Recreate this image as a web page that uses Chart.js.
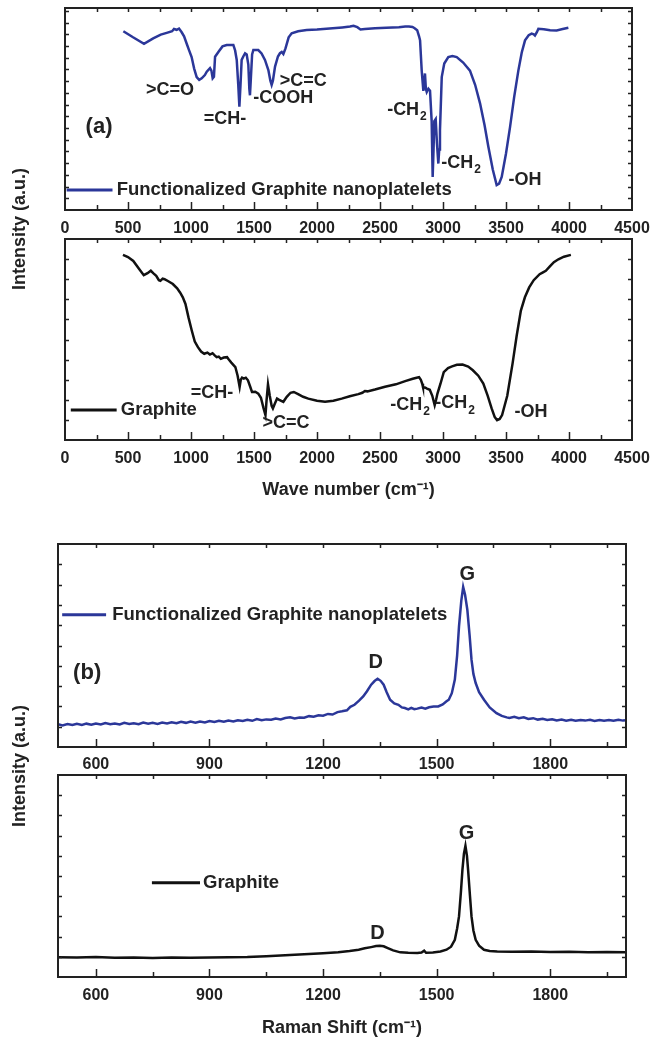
<!DOCTYPE html>
<html>
<head>
<meta charset="utf-8">
<script src="https://cdn.jsdelivr.net/npm/chart.js@4.4.1/dist/chart.umd.min.js"></script>
<style>
  body { margin: 0; background: #fff; }
  #fig { position: relative; width: 651px; height: 1044px; }
  #fig canvas { position: absolute; left: 0; }
  .ytitle {
    position: absolute;
    transform: translate(-50%, -50%) rotate(-90deg);
    white-space: nowrap;
    font: bold 18px "Liberation Sans", Arial, sans-serif;
    color: #222;
  }
</style>
</head>
<body>
<div id="fig">
  <canvas id="ftirTop" width="651" height="240" style="top:0px"></canvas>
  <canvas id="ftirBottom" width="651" height="280" style="top:230px"></canvas>
  <canvas id="ramanTop" width="651" height="270" style="top:510px"></canvas>
  <canvas id="ramanBottom" width="651" height="274" style="top:770px"></canvas>
  <div class="ytitle" style="left:19px; top:229px">Intensity (a.u.)</div>
  <div class="ytitle" style="left:19px; top:766px">Intensity (a.u.)</div>
</div>
<script>
// FTIR, functionalized graphite nanoplatelets (wave number / relative intensity)
const ftirFgnpWave = [463, 540, 627, 700, 760, 807, 850, 865, 886, 905, 926, 945, 966, 985, 1005, 1025, 1045, 1065, 1085, 1110,
  1125, 1151, 1162, 1172, 1182, 1191, 1220, 1250, 1283, 1336, 1350, 1363, 1375, 1384, 1393, 1402, 1415, 1429, 1442, 1455,
  1463, 1468, 1475, 1485, 1495, 1534, 1560, 1587, 1614, 1630, 1640, 1650, 1667, 1690, 1706, 1720, 1733, 1750, 1775, 1799,
  1850, 1918, 2000, 2100, 2200, 2262, 2290, 2320, 2345, 2380, 2460, 2550, 2650, 2700, 2730, 2758, 2775, 2795, 2810, 2818,
  2831, 2844, 2857, 2864, 2871, 2884, 2897, 2910, 2918, 2925, 2931, 2942, 2952, 2963, 2970, 2976, 2990, 3010, 3042, 3075,
  3109, 3160, 3214, 3255, 3294, 3330, 3360, 3395, 3426, 3445, 3466, 3500, 3532, 3565, 3598, 3625, 3651, 3680, 3704, 3720,
  3730, 3745, 3757, 3800, 3850, 3902, 3950, 3995];
const ftirFgnpValue = [88.5, 85.5, 82.3, 85, 86.8, 87.7, 88.5, 89.6, 89.2, 89.8, 88, 86, 82.3, 79, 75.7, 70, 65.8, 64.4, 65.2, 66.8,
  68.5, 70.2, 69, 65.2, 66, 75.9, 78.5, 81, 81.7, 81.7, 79, 74.3, 62, 51.1, 62, 74.3, 76, 77.6, 77, 72,
  60, 56.8, 65, 77, 79.2, 79.2, 77.5, 74.3, 69.3, 64, 61.9, 64, 71, 76, 77.6, 78.2, 77.2, 80, 85.5, 87.5,
  88.5, 89.1, 89.3, 89.8, 90.4, 90.8, 91.2, 90.5, 89.4, 89.6, 90, 90.2, 90.5, 90.8, 90.8, 90.6, 90, 89, 86, 84,
  69, 59, 67.6, 60, 58.4, 60, 59, 44, 16.4, 30, 44, 45, 33, 23, 30, 39.5, 65.8, 72.5, 75.7, 76.2,
  75.7, 73, 69, 62, 52.8, 42, 31.3, 20, 12.3, 13, 16.4, 28, 41, 56, 69, 78, 84, 86.5, 87.3, 87,
  86.4, 88, 89.7, 89.5, 89, 88.9, 89.6, 90.2];

// FTIR, pristine graphite
const ftirGraphiteWave = [460, 500, 542, 590, 625, 655, 681, 700, 724, 745, 757, 775, 790, 820, 856, 890, 913, 935, 956, 980,
  1006, 1030, 1055, 1080, 1105, 1130, 1150, 1171, 1190, 1204, 1220, 1237, 1260, 1286, 1300, 1320, 1352, 1370, 1386, 1395,
  1405, 1419, 1435, 1452, 1470, 1484, 1510, 1534, 1555, 1575, 1591, 1600, 1611, 1625, 1640, 1650, 1665, 1683, 1700, 1733,
  1760, 1790, 1816, 1850, 1890, 1931, 2000, 2064, 2130, 2196, 2260, 2328, 2360, 2380, 2400, 2460, 2540, 2626, 2700, 2760,
  2791, 2810, 2824, 2835, 2841, 2860, 2873, 2895, 2915, 2934, 2945, 2956, 2980, 3006, 3040, 3072, 3110, 3155, 3200, 3237,
  3280, 3320, 3355, 3386, 3410, 3429, 3450, 3469, 3510, 3552, 3585, 3618, 3650, 3684, 3720, 3767, 3790, 3816, 3850, 3880,
  3916, 3960, 4015];
const ftirGraphiteValue = [92.1, 91, 89.1, 85, 82, 83, 84.2, 83, 81.7, 79.5, 79.2, 80.3, 80, 79, 77.6, 75.5, 73.4, 71, 67.7, 61,
  54.5, 49, 46.2, 44, 42.9, 43.5, 42.5, 43.2, 42, 41.2, 41.5, 40.4, 41, 41.2, 40, 38.5, 36.3, 32, 26.4, 30,
  31, 30.5, 31, 29.7, 26.5, 23.9, 24, 23.1, 21, 16, 12.4, 20, 27.7, 22, 17, 15.7, 18, 20.6, 20, 19,
  21.5, 23.5, 23.9, 22.8, 21.5, 20.6, 19.5, 19, 19.5, 20.6, 21.8, 22.8, 23.5, 24.4, 24.2, 25.1, 26.5, 27.7, 29.3, 30.5,
  31, 31.3, 30, 28, 26.4, 26, 25.6, 25, 22, 17.3, 20, 23.1, 28, 33.8, 35.8, 36.6, 37.4, 37.5, 36.5, 34.7,
  32, 28.1, 22, 15.7, 11.5, 9.9, 10.5, 12.4, 22, 38, 52, 64.4, 71, 75.9, 79.5, 82.5, 83.3, 84.2, 86.5, 88.5,
  89.9, 91.2, 92.1];

// Raman, functionalized graphite nanoplatelets
const ramanFgnpShift = [500, 512, 525, 538, 550, 563, 575, 588, 600, 613, 625, 638, 650, 663, 675, 688, 700, 713, 725, 738,
  750, 763, 775, 788, 800, 813, 825, 838, 850, 863, 875, 888, 900, 913, 925, 938, 950, 963, 975, 988,
  1000, 1013, 1025, 1038, 1050, 1063, 1075, 1088, 1100, 1113, 1125, 1138, 1150, 1163, 1175, 1188, 1200, 1213, 1225, 1238,
  1250, 1263, 1272, 1283, 1295, 1306, 1316, 1327, 1336, 1344, 1352, 1360, 1368, 1377, 1388, 1399, 1408, 1416, 1425, 1433,
  1441, 1449, 1460, 1470, 1480, 1492, 1504, 1516, 1526, 1532, 1540, 1548, 1554, 1559, 1565, 1570, 1575, 1581, 1587, 1592,
  1597, 1603, 1612, 1625, 1640, 1658, 1672, 1685, 1692, 1705, 1717, 1730, 1742, 1755, 1767, 1780, 1792, 1805, 1817, 1830,
  1842, 1855, 1867, 1880, 1892, 1905, 1917, 1930, 1942, 1955, 1967, 1980, 1992, 2000];
const ramanFgnpIntensity = [11.2, 10.6, 11.3, 10.8, 11.4, 10.9, 11.5, 11, 11.6, 11.1, 11.8, 11.2, 11.6, 11.1, 11.9, 11.3, 11.7, 11.2, 12, 11.5,
  11.9, 11.4, 12.1, 11.6, 12.2, 11.7, 12.4, 11.9, 12.5, 12, 12.6, 12.1, 12.8, 12.3, 12.9, 12.4, 13, 12.6, 13.2, 12.8,
  13.4, 12.9, 13.8, 13.2, 13.6, 13.4, 14, 13.6, 14.3, 14.6, 14.1, 14.5, 14.4, 15.2, 14.9, 15.6, 15.4, 16.3, 16, 17.2,
  17.6, 18.1, 19.8, 20.8, 22.8, 24.9, 27.5, 30.7, 32.5, 33.6, 32.6, 30.7, 27, 23.3, 21.5, 20.8, 19.5, 19.2, 18.5, 19.3,
  18.6, 18.9, 19.4, 18.9, 19.6, 19.9, 20, 21, 22.5, 23.3, 26.5, 33.2, 45, 59.4, 72, 78.8, 75, 67.6, 55, 43,
  36, 31.5, 27, 23.3, 19.5, 16.7, 15.3, 14.6, 14.3, 14.9, 14.2, 14.6, 13.8, 14.2, 13.5, 13.9, 13.3, 13.7, 13.1, 13.5,
  13, 13.4, 12.9, 13.3, 13, 13.4, 12.8, 13.3, 12.9, 13.3, 12.9, 13.4, 13, 13.2];

// Raman, pristine graphite
const ramanGraphiteShift = [500, 550, 600, 650, 700, 750, 800, 850, 900, 950, 1000, 1050, 1100, 1150, 1200, 1240, 1270, 1294, 1310, 1327,
  1340, 1350, 1360, 1371, 1385, 1404, 1425, 1449, 1460, 1467, 1472, 1490, 1510, 1526, 1538, 1548, 1554, 1559, 1564, 1568,
  1572, 1576, 1580, 1583, 1588, 1592, 1597, 1603, 1612, 1625, 1640, 1660, 1700, 1750, 1800, 1850, 1900, 1950, 2000];
const ramanGraphiteIntensity = [9.8, 9.6, 9.9, 9.5, 9.7, 9.4, 9.6, 9.5, 9.7, 9.8, 9.9, 10.3, 10.8, 11.3, 11.8, 12.3, 12.9, 13.5, 14.2, 14.8,
  15.3, 15.5, 15.2, 14.3, 13.2, 12.2, 12, 11.9, 12.1, 13, 12, 12.1, 12.6, 13.5, 15, 18.4, 24, 30, 42, 53,
  61, 64.9, 60, 53, 40, 30, 23, 18.4, 15.5, 13.5, 12.9, 12.6, 12.5, 12.6, 12.4, 12.5, 12.3, 12.4, 12.2];

// tick values
const ftirTicks = [0, 250, 500, 750, 1000, 1250, 1500, 1750, 2000, 2250, 2500, 2750, 3000, 3250, 3500, 3750, 4000, 4250, 4500];
const ftirLabels = [0, 500, 1000, 1500, 2000, 2500, 3000, 3500, 4000, 4500];
const ramanTicks = [600, 750, 900, 1050, 1200, 1350, 1500, 1650, 1800, 1950];
const ramanLabels = [600, 900, 1200, 1500, 1800];

// band labels, placed in data units
const ftirTopNotes = [
  { t: '>C=O', x: 833, y: 59.4 },
  { t: '=CH-', x: 1270, y: 45 },
  { t: '-COOH', x: 1733, y: 55.3 },
  { t: '>C=C', x: 1891, y: 64 },
  { t: '-CH', sub: '2', x: 2714, y: 49.5 },
  { t: '-CH', sub: '2', x: 3143, y: 23.3 },
  { t: '-OH', x: 3651, y: 14.9 },
  { t: '(a)', x: 270, y: 41, big: true }
];
const ftirBottomNotes = [
  { t: '=CH-', x: 1167, y: 23.2 },
  { t: '>C=C', x: 1754, y: 8.3 },
  { t: '-CH', sub: '2', x: 2738, y: 17.4 },
  { t: '-CH', sub: '2', x: 3095, y: 18.3 },
  { t: '-OH', x: 3699, y: 14.1 }
];
const ramanTopNotes = [
  { t: 'G', x: 1581, y: 84.9, mid: true },
  { t: 'D', x: 1339, y: 41.4, mid: true },
  { t: '(b)', x: 577, y: 36.5, big: true }
];
const ramanBottomNotes = [
  { t: 'G', x: 1579, y: 70.8, mid: true },
  { t: 'D', x: 1344, y: 21.7, mid: true }
];

const BLUE = '#2b3799';
const INK = '#222';
const FONT = '"Liberation Sans", Arial, sans-serif';
Chart.defaults.font.family = FONT;

function toPoints(xs, ys) {
  return xs.map((v, i) => ({ x: v, y: ys[i] }));
}

function drawNote(ctx, n, x, y) {
  const size = n.big ? 22 : (n.mid ? 20 : 18);
  ctx.font = `bold ${size}px ${FONT}`;
  ctx.fillStyle = INK;
  ctx.textBaseline = 'middle';
  ctx.textAlign = 'left';
  const px = x.getPixelForValue(n.x);
  const py = y.getPixelForValue(n.y);
  const w = ctx.measureText(n.t).width;
  let sw = 0;
  if (n.sub) {
    ctx.font = `bold 12px ${FONT}`;
    sw = ctx.measureText(n.sub).width + 1;
  }
  const left = px - (w + sw) / 2;
  ctx.font = `bold ${size}px ${FONT}`;
  ctx.fillText(n.t, left, py);
  if (n.sub) {
    ctx.font = `bold 12px ${FONT}`;
    ctx.fillText(n.sub, left + w + 1, py + 7);
  }
}

// box, inward ticks, legend line and band labels
const framePlugin = {
  id: 'frame',
  afterDatasetsDraw(chart, args, opts) {
    const { ctx, chartArea: a, scales: { x, y } } = chart;
    ctx.save();
    opts.notes.forEach(n => drawNote(ctx, n, x, y));

    const lg = opts.legend;
    const ly = y.getPixelForValue(lg.y);
    ctx.strokeStyle = lg.color;
    ctx.lineWidth = 3;
    ctx.beginPath();
    ctx.moveTo(x.getPixelForValue(lg.x0), ly);
    ctx.lineTo(x.getPixelForValue(lg.x1), ly);
    ctx.stroke();
    ctx.font = `bold 18.5px ${FONT}`;
    ctx.fillStyle = INK;
    ctx.textBaseline = 'middle';
    ctx.textAlign = 'left';
    ctx.fillText(lg.text, x.getPixelForValue(lg.tx), ly);

    ctx.strokeStyle = INK;
    ctx.lineWidth = 2;
    ctx.strokeRect(a.left, a.top, a.width, a.height);
    ctx.lineWidth = 1.5;
    ctx.beginPath();
    x.ticks.forEach(t => {
      if (t.value <= x.min || t.value >= x.max) return;
      const px = Math.round(x.getPixelForValue(t.value)) + 0.5;
      const major = opts.major.includes(t.value);
      ctx.moveTo(px, a.bottom);
      ctx.lineTo(px, a.bottom - (major ? 8 : 5));
      ctx.moveTo(px, a.top);
      ctx.lineTo(px, a.top + 4);
    });
    for (let v = y.min + opts.yStep; v < y.max - 0.01; v += opts.yStep) {
      const py = Math.round(y.getPixelForValue(v)) + 0.5;
      ctx.moveTo(a.left, py);
      ctx.lineTo(a.left + 4, py);
      ctx.moveTo(a.right, py);
      ctx.lineTo(a.right - 4, py);
    }
    ctx.stroke();
    ctx.restore();
  }
};

// labelGap: distance from the axis line to the middle of the tick labels
function xAxis(min, max, ticks, labels, height, labelGap, title, titlePad) {
  return {
    type: 'linear',
    min: min,
    max: max,
    afterBuildTicks: s => { s.ticks = ticks.map(v => ({ value: v })); },
    afterFit: s => { s.height = height; },
    grid: { display: false, drawTicks: false },
    border: { display: false },
    ticks: {
      autoSkip: false,
      maxRotation: 0,
      padding: 0,
      color: INK,
      font: { size: 16, weight: 'bold', lineHeight: (labelGap * 2) + 'px' },
      callback: v => labels.includes(v) ? String(v) : ''
    },
    title: {
      display: !!title,
      text: title || '',
      color: INK,
      font: { size: 18, weight: 'bold' },
      padding: { top: 0, bottom: titlePad || 0 }
    }
  };
}

function makeChart(id, xs, ys, color, pad, x, frame) {
  return new Chart(document.getElementById(id), {
    type: 'line',
    data: {
      datasets: [{
        data: toPoints(xs, ys),
        borderColor: color,
        borderWidth: 2.5,
        pointRadius: 0,
        tension: 0,
        fill: false
      }]
    },
    options: {
      responsive: false,
      animation: false,
      events: [],
      layout: { padding: pad },
      plugins: { legend: { display: false }, tooltip: { enabled: false }, frame: frame },
      scales: {
        x: x,
        y: { display: false, min: 0, max: 100 }
      }
    },
    plugins: [framePlugin]
  });
}

makeChart('ftirTop', ftirFgnpWave, ftirFgnpValue, BLUE,
  { left: 65, right: 19, top: 8, bottom: 0 },
  xAxis(0, 4500, ftirTicks, ftirLabels, 30, 18.5),
  { notes: ftirTopNotes, major: ftirLabels, yStep: 5.8,
    legend: { text: 'Functionalized Graphite nanoplatelets', color: BLUE, x0: 13, x1: 377, tx: 410, y: 9.9 } });

makeChart('ftirBottom', ftirGraphiteWave, ftirGraphiteValue, '#111',
  { left: 65, right: 19, top: 9, bottom: 0 },
  xAxis(0, 4500, ftirTicks, ftirLabels, 70, 18.5, 'Wave number (cm\u207B\u00B9)', 9),
  { notes: ftirBottomNotes, major: ftirLabels, yStep: 10,
    legend: { text: 'Graphite', color: '#111', x0: 46, x1: 410, tx: 443, y: 14.9 } });

makeChart('ramanTop', ramanFgnpShift, ramanFgnpIntensity, BLUE,
  { left: 58, right: 25, top: 34, bottom: 0 },
  xAxis(500, 2000, ramanTicks, ramanLabels, 33, 18),
  { notes: ramanTopNotes, major: ramanLabels, yStep: 10,
    legend: { text: 'Functionalized Graphite nanoplatelets', color: BLUE, x0: 511, x1: 627, tx: 643, y: 65.2 } });

makeChart('ramanBottom', ramanGraphiteShift, ramanGraphiteIntensity, '#111',
  { left: 58, right: 25, top: 5, bottom: 0 },
  xAxis(500, 2000, ramanTicks, ramanLabels, 67, 19, 'Raman Shift (cm\u207B\u00B9)', 5),
  { notes: ramanBottomNotes, major: ramanLabels, yStep: 10,
    legend: { text: 'Graphite', color: '#111', x0: 748, x1: 875, tx: 883, y: 46.6 } });
</script>
</body>
</html>
